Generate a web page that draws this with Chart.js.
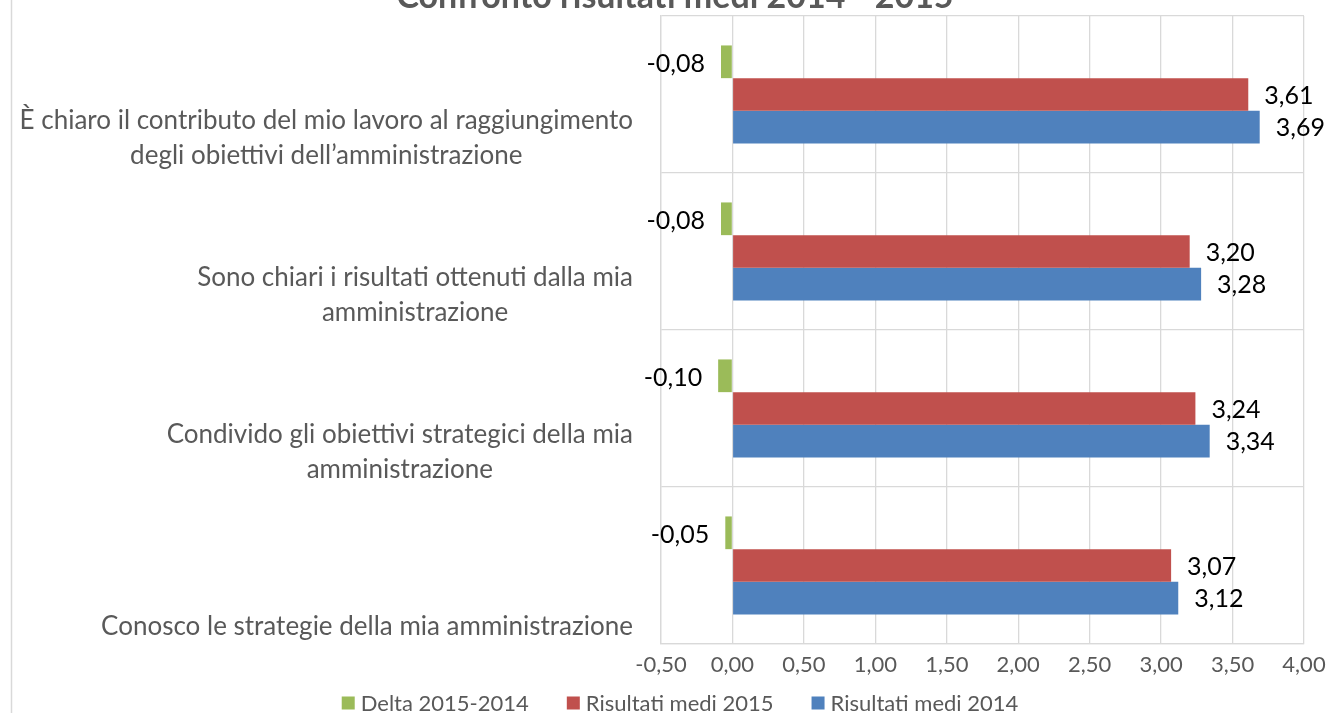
<!DOCTYPE html>
<html>
<head>
<meta charset="utf-8">
<script src="https://cdn.jsdelivr.net/npm/chart.js@4.4.0/dist/chart.umd.min.js"></script>
<style>
  html, body { margin: 0; padding: 0; background: #fff; }
  #wrap { width: 1327px; height: 713px; position: relative; overflow: hidden; }
</style>
</head>
<body>
<div id="wrap"><canvas id="chart"></canvas></div>
<script>
const titleText = 'Confronto risultati medi 2014 - 2015';

// one entry per question, split where the label wraps
const questions = [
    ['È chiaro il contributo del mio lavoro al raggiungimento', 'degli obiettivi dell’amministrazione'],
    ['Sono chiari i risultati ottenuti dalla mia', 'amministrazione'],
    ['Condivido gli obiettivi strategici della mia', 'amministrazione'],
    ['Conosco le strategie della mia amministrazione']
];
const seriesNames = ['Delta 2015-2014', 'Risultati medi 2015', 'Risultati medi 2014'];
const delta = [-0.08, -0.08, -0.10, -0.05];
const media2015 = [3.61, 3.20, 3.24, 3.07];
const media2014 = [3.69, 3.28, 3.34, 3.12];
const xTicks = [-0.5, 0, 0.5, 1, 1.5, 2, 2.5, 3, 3.5, 4];

const grey = '#595959';
const gridGrey = '#D9D9D9';
const fmt = v => v.toFixed(2).replace('.', ',');

Chart.defaults.font.family = 'Lato';

// outer frame line and the title (sits partly above the canvas edge)
const chartFrame = {
    id: 'chartFrame',
    beforeDraw(chart) {
        const ctx = chart.ctx;
        ctx.save();
        ctx.strokeStyle = gridGrey;
        ctx.lineWidth = 1.5;
        ctx.beginPath();
        ctx.moveTo(11.5, 0);
        ctx.lineTo(11.5, chart.height);
        ctx.stroke();
        ctx.fillStyle = grey;
        ctx.font = 'bold 34px Lato';
        ctx.textAlign = 'center';
        ctx.textBaseline = 'alphabetic';
        ctx.fillText(titleText, 675, 8);
        ctx.restore();
    }
};

// question labels: block right-aligned to the axis, lines centred inside the block
const questionLabels = {
    id: 'questionLabels',
    afterDraw(chart) {
        const yScale = chart.scales.y;
        const ctx = chart.ctx;
        ctx.save();
        ctx.font = '26px Lato';
        ctx.fillStyle = grey;
        ctx.textAlign = 'center';
        ctx.textBaseline = 'alphabetic';
        const right = yScale.right - 28;
        questions.forEach((lines, i) => {
            const w = Math.max(...lines.map(l => ctx.measureText(l).width));
            const cx = right - w / 2;
            const base = yScale.getPixelForValue(i) + 69;
            lines.forEach((line, j) => {
                ctx.fillText(line, cx, base - (lines.length - 1 - j) * 35);
            });
        });
        ctx.restore();
    }
};

// value labels at the end of each bar
const valueLabels = {
    id: 'valueLabels',
    afterDatasetsDraw(chart) {
        const ctx = chart.ctx;
        ctx.save();
        ctx.font = '25px Lato';
        ctx.fillStyle = '#000';
        ctx.textBaseline = 'middle';
        chart.data.datasets.forEach((ds, di) => {
            chart.getDatasetMeta(di).data.forEach((bar, i) => {
                const v = ds.data[i];
                const neg = v < 0;
                ctx.textAlign = neg ? 'right' : 'left';
                ctx.fillText(fmt(v), bar.x + (neg ? -16 : 16), bar.y + (neg ? 2 : 1));
            });
        });
        ctx.restore();
    }
};

// legend row under the axis: small square, short gap, name
const legendRow = {
    id: 'legendRow',
    afterDraw(chart) {
        const ctx = chart.ctx;
        const box = 13, gap = 6, spacing = 38, cy = 703, centre = 680;
        ctx.save();
        ctx.font = '22px Lato';
        ctx.textBaseline = 'middle';
        ctx.textAlign = 'left';
        const items = chart.data.datasets.map(ds => ({
            text: ds.label,
            color: ds.backgroundColor,
            w: box + gap + ctx.measureText(ds.label).width
        }));
        const total = items.reduce((s, it) => s + it.w, 0) + spacing * (items.length - 1);
        let x = centre - total / 2;
        items.forEach(it => {
            ctx.fillStyle = it.color;
            ctx.fillRect(x, cy - box / 2, box, box);
            ctx.fillStyle = grey;
            ctx.fillText(it.text, x + box + gap, cy + 1);
            x += it.w + spacing;
        });
        ctx.restore();
    }
};

new Chart(document.getElementById('chart'), {
    type: 'bar',
    data: {
        labels: questions.map(q => q.join(' ')),
        datasets: [
            { label: seriesNames[0], data: delta, backgroundColor: '#9BBB59' },
            { label: seriesNames[1], data: media2015, backgroundColor: '#C0504D' },
            { label: seriesNames[2], data: media2014, backgroundColor: '#4F81BD' }
        ]
    },
    options: {
        indexAxis: 'y',
        responsive: true,
        maintainAspectRatio: false,
        animation: false,
        devicePixelRatio: 1,
        layout: { padding: { top: 16, right: 23, left: 56, bottom: 0 } },
        datasets: {
            bar: { categoryPercentage: 0.625, barPercentage: 1, borderWidth: 0 }
        },
        scales: {
            x: {
                min: xTicks[0],
                max: xTicks[xTicks.length - 1],
                ticks: {
                    stepSize: xTicks[1] - xTicks[0],
                    callback: v => fmt(v),
                    color: grey,
                    font: { size: 22 },
                    padding: 8
                },
                grid: { color: gridGrey, lineWidth: 1.3, drawTicks: false },
                border: { color: gridGrey, width: 1.3 },
                afterFit: s => {
                    s.height = 69;
                    s.paddingLeft = 0;
                    s.paddingRight = 0;
                }
            },
            y: {
                ticks: { display: false },
                grid: { color: gridGrey, lineWidth: 1.3, drawTicks: false },
                border: { color: gridGrey, width: 1.3 },
                afterFit: s => { s.width = 605; }
            }
        },
        plugins: {
            legend: { display: false },
            tooltip: { enabled: false }
        }
    },
    plugins: [chartFrame, questionLabels, valueLabels, legendRow]
});
</script>
</body>
</html>
